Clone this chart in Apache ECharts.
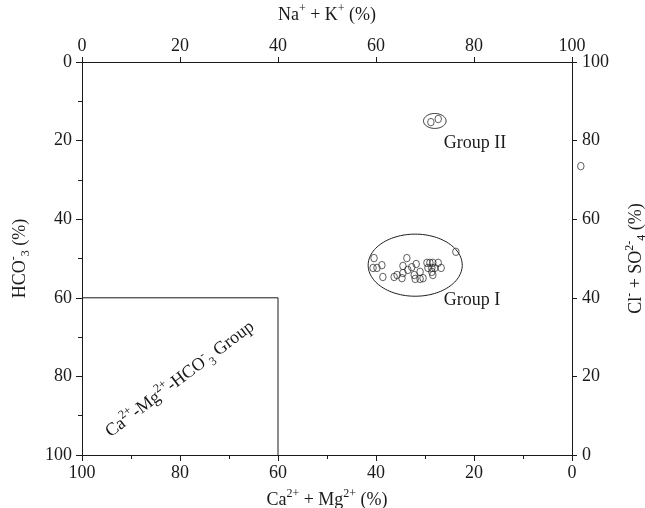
<!DOCTYPE html>
<html>
<head>
<meta charset="utf-8">
<script src="https://cdn.jsdelivr.net/npm/echarts@6/dist/echarts.min.js"></script>
<style>html,body{margin:0;padding:0;background:#fff}#c{width:645px;height:508px}</style>
</head>
<body>
<div id="c"></div>
<script>
// ---- data ----
const axisTicks = [0, 20, 40, 60, 80, 100];
const groupI_NaK = [59.6,59.4,60.2,61.2,61.4,63.7,64.3,65.3,65.5,65.5,66.3,66.5,67.3,67.8,68.2,69.0,68.0,69.0,69.6,70.4,71.0,71.6,72.7,70.6,71.4,72.0,73.3,71.4,71.6,76.3];
const groupI_ClSO4 = [50.1,47.6,47.6,48.3,45.3,45.3,45.8,45.0,46.3,48.1,50.1,47.1,47.8,45.8,48.6,46.6,44.8,44.8,45.0,48.9,48.9,48.9,48.9,47.6,47.6,47.6,47.6,46.6,45.8,51.7];
const groupII_NaK = [71.2, 72.7];
const groupII_ClSO4 = [84.7, 85.5];
const other_NaK = [101.8];
const other_ClSO4 = [73.5];
// field boundary: HCO3 >= 60 and Ca+Mg >= 60  (in Na+K / Cl+SO4 coordinates)
const boundaryNaK = [0, 40, 40];
const boundaryClSO4 = [40, 40, 0];
// group envelopes: centre (Na+K, Cl+SO4) and half-widths
const envelopeCentre = [[68.0, 48.3], [72.0, 85.0]];
const envelopeRadius = [[9.6, 7.9], [2.3, 1.9]];
// annotations
const annoText = ['Group I', 'Group II', 'Ca{sup|2+}-Mg{sup|2+}-HCO{sup|-}{sub|3} Group'];
const annoAt = [[79.6, 39.4], [80.2, 79.4], [20.0, 19.3]];
const annoAngle = [0, 0, 37];

const FONT = 'Liberation Serif';
const INK = '#1a1a1a';
const rich = {
  sup: {fontSize: 12, lineHeight: 12, verticalAlign: 'top', fontFamily: FONT, color: INK, fill: INK},
  sub: {fontSize: 12, lineHeight: 12, verticalAlign: 'bottom', fontFamily: FONT, color: INK, fill: INK}
};
const nameStyle = {fontFamily: FONT, fontSize: 18, color: INK, lineHeight: 24, rich: rich};
const labelStyle = {fontFamily: FONT, fontSize: 18, color: INK};
const line = {show: true, onZero: false, lineStyle: {color: INK, width: 1}};

function zip(a, b) { return a.map((v, i) => [v, b[i]]); }

const chart = echarts.init(document.getElementById('c'), null, {renderer: 'canvas'});
const marker = {
  type: 'scatter', xAxisIndex: 1, yAxisIndex: 1, symbol: 'circle', symbolSize: [6.5, 7.5],
  clip: false, silent: true,
  itemStyle: {color: 'rgba(0,0,0,0)', borderColor: '#222', borderWidth: 0.9}
};
chart.setOption({
  animation: false,
  grid: {left: 82, right: 73, top: 62, bottom: 53, containLabel: false, outerBoundsMode: 'none'},
  xAxis: [
    {type: 'value', position: 'bottom', inverse: true, min: 0, max: 100, interval: 20,
     name: 'Ca{sup|2+} + Mg{sup|2+} (%)', nameLocation: 'middle', nameGap: 33, nameTextStyle: nameStyle,
     axisLine: line, axisTick: {show: true, length: 6, lineStyle: {color: INK}},
     minorTick: {show: true, splitNumber: 2, length: 4, lineStyle: {color: INK}},
     axisLabel: Object.assign({margin: 9}, labelStyle), splitLine: {show: false}},
    {type: 'value', position: 'top', min: 0, max: 100, interval: 20,
     name: 'Na{sup|+} + K{sup|+} (%)', nameLocation: 'middle', nameGap: 35, nameTextStyle: nameStyle,
     axisLine: line, axisTick: {show: true, length: 5, lineStyle: {color: INK}},
     axisLabel: Object.assign({margin: 7}, labelStyle), splitLine: {show: false}}
  ],
  yAxis: [
    {type: 'value', position: 'left', inverse: true, min: 0, max: 100, interval: 20,
     name: 'HCO{sup|-}{sub|3} (%)', nameLocation: 'middle', nameGap: 50, nameRotate: 90, nameTextStyle: nameStyle,
     axisLine: line, axisTick: {show: true, length: 6, lineStyle: {color: INK}},
     minorTick: {show: true, splitNumber: 2, length: 4, lineStyle: {color: INK}},
     axisLabel: Object.assign({margin: 10}, labelStyle), splitLine: {show: false}},
    {type: 'value', position: 'right', min: 0, max: 100, interval: 20,
     name: 'Cl{sup|-} + SO{sup|2-}{sub|4} (%)', nameLocation: 'middle', nameGap: 52, nameRotate: 90, nameTextStyle: nameStyle,
     axisLine: line, axisTick: {show: true, length: 5, lineStyle: {color: INK}},
     axisLabel: Object.assign({margin: 10}, labelStyle), splitLine: {show: false}}
  ],
  series: [
    {type: 'line', xAxisIndex: 1, yAxisIndex: 1, data: zip(boundaryNaK, boundaryClSO4),
     symbol: 'none', silent: true, lineStyle: {color: INK, width: 1}},
    Object.assign({name: 'Group I', data: zip(groupI_NaK, groupI_ClSO4)}, marker),
    Object.assign({name: 'Group II', data: zip(groupII_NaK, groupII_ClSO4)}, marker),
    Object.assign({name: 'Other', data: zip(other_NaK, other_ClSO4)}, marker),
    {type: 'custom', xAxisIndex: 1, yAxisIndex: 1, silent: true, clip: false,
     data: envelopeCentre.map((c, i) => [c[0], c[1], envelopeRadius[i][0], envelopeRadius[i][1]]),
     renderItem: function (params, api) {
       const cx = api.value(0), cy = api.value(1), rx = api.value(2), ry = api.value(3);
       const pts = [];
       for (let k = 0; k < 120; k++) {
         const t = k / 120 * Math.PI * 2;
         pts.push(api.coord([cx + rx * Math.cos(t), cy + ry * Math.sin(t)]));
       }
       return {type: 'polygon', shape: {points: pts}, style: {fill: 'none', stroke: INK, lineWidth: 1}};
     }},
    {type: 'custom', xAxisIndex: 1, yAxisIndex: 1, silent: true, clip: false,
     data: annoAt.map((p, i) => [p[0], p[1], i]),
     renderItem: function (params, api) {
       const i = api.value(2);
       const p = api.coord([api.value(0), api.value(1)]);
       return {type: 'text', x: p[0], y: p[1], rotation: annoAngle[i] * Math.PI / 180,
         style: {text: annoText[i], fontFamily: FONT, fontSize: 18, fill: INK, align: 'center',
                 verticalAlign: 'middle', lineHeight: 24, rich: rich}};
     }}
  ]
});
</script>
</body>
</html>
